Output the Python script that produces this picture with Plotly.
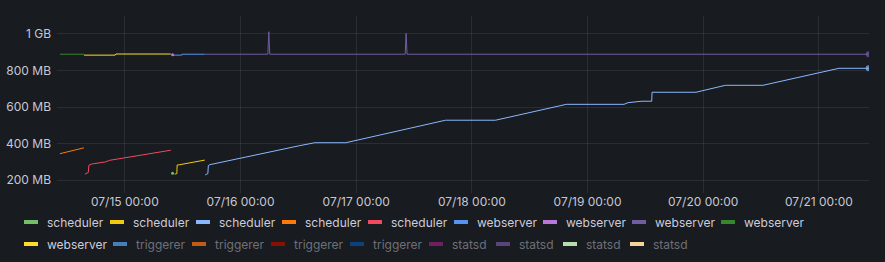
import plotly.graph_objects as go

# ---------------- data (MB) ----------------
sched1_t = ["2023-07-15 09:54"]
sched1_v = [238]

sched2_t = ["2023-07-15 10:22", "2023-07-15 10:47", "2023-07-15 10:51", "2023-07-15 11:25", "2023-07-15 16:35"]
sched2_v = [233, 236, 283, 285, 310]

sched3_t = ["2023-07-15 16:41", "2023-07-15 17:13", "2023-07-15 17:19", "2023-07-15 17:38",
            "2023-07-16 12:18", "2023-07-16 15:25", "2023-07-16 21:50", "2023-07-17 18:31",
            "2023-07-18 04:54", "2023-07-18 19:37", "2023-07-19 07:34", "2023-07-19 08:24",
            "2023-07-19 11:18", "2023-07-19 13:19", "2023-07-19 13:23", "2023-07-19 22:30",
            "2023-07-20 04:36", "2023-07-20 12:24", "2023-07-21 04:10", "2023-07-21 10:20"]
sched3_v = [229, 236, 280, 285, 389, 405, 405, 528, 528, 615, 615, 624, 632, 632, 681, 681,
            719, 719, 812, 812]

sched4_t = ["2023-07-14 10:31", "2023-07-14 15:30"]
sched4_v = [345, 377]

sched5_t = ["2023-07-14 15:42", "2023-07-14 16:24", "2023-07-14 16:32", "2023-07-14 17:13",
            "2023-07-14 19:58", "2023-07-14 20:53", "2023-07-15 09:32"]
sched5_v = [233, 242, 282, 289, 300, 309, 364]

web6_t = ["2023-07-15 10:00", "2023-07-15 11:49", "2023-07-15 11:50", "2023-07-15 16:35"]
web6_v = [884, 884, 889, 889]

web7_t = ["2023-07-15 09:54"]
web7_v = [886]

web8_t = ["2023-07-15 16:35", "2023-07-16 05:40", "2023-07-16 05:52", "2023-07-16 06:04",
          "2023-07-17 10:10", "2023-07-17 10:21", "2023-07-17 10:33", "2023-07-21 10:20"]
web8_v = [889, 889, 1012, 889, 889, 1003, 889, 889]

web9_t = ["2023-07-14 10:31", "2023-07-14 15:30"]
web9_v = [889, 889]

web10_t = ["2023-07-14 15:30", "2023-07-14 22:00", "2023-07-14 22:08", "2023-07-15 09:32"]
web10_v = [884, 884, 890, 890]

y_tickvals = [200, 400, 600, 800, 1000]
y_ticktext = ["200 MB", "400 MB", "600 MB", "800 MB", "1 GB"]
x_tickvals = ["2023-07-15 00:00", "2023-07-16 00:00", "2023-07-17 00:00", "2023-07-18 00:00",
              "2023-07-19 00:00", "2023-07-20 00:00", "2023-07-21 00:00"]
x_ticktext = ["07/15 00:00", "07/16 00:00", "07/17 00:00", "07/18 00:00",
              "07/19 00:00", "07/20 00:00", "07/21 00:00"]

legend_names = ["scheduler"] * 5 + ["webserver"] * 5 + ["triggerer"] * 4 + ["statsd"] * 4
legend_colors = ["#73BF69", "#F2CC0C", "#8AB8FF", "#FF780A", "#F2495C",
                 "#5794F2", "#B877D9", "#705DA0", "#37872D", "#FADE2A",
                 "#447EBC", "#C15C17", "#890F02", "#0A437C",
                 "#6D1F62", "#584477", "#B7DBAB", "#F4D598"]
legend_shown = [True] * 10 + [False] * 8

series = [
    (sched1_t, sched1_v, 0), (sched2_t, sched2_v, 1), (sched3_t, sched3_v, 2),
    (sched4_t, sched4_v, 3), (sched5_t, sched5_v, 4), (web6_t, web6_v, 5),
    (web7_t, web7_v, 6), (web8_t, web8_v, 7), (web9_t, web9_v, 8), (web10_t, web10_v, 9),
]
end_dots = {2, 7}

# ---------------- figure ----------------
BG = "#181b1f"
W, H = 885, 262
ML, MR, MT, MB = 57, 16, 16, 69

fig = go.Figure()
for t, v, idx in series:
    color = legend_colors[idx]
    if len(t) == 1:
        fig.add_trace(go.Scatter(x=t, y=v, mode="markers", showlegend=False,
                                 marker=dict(color=color, size=3), hoverinfo="skip"))
    else:
        sizes = [0] * (len(t) - 1) + [6 if idx in end_dots else 0]
        fig.add_trace(go.Scatter(x=t, y=v, mode="lines+markers", showlegend=False,
                                 line=dict(color=color, width=1),
                                 marker=dict(color=color, size=sizes, line=dict(width=0)),
                                 hoverinfo="skip"))

# ---------------- manual legend (Grafana style) ----------------
char_w = {"scheduler": 53, "webserver": 56, "triggerer": 46, "statsd": 34}
shapes = []
annotations = []
x = 24
row_y = [222, 244]
row = 0
for name, color, shown in zip(legend_names, legend_colors, legend_shown):
    w = char_w[name]
    if x + 22 + w > W - 15:
        row += 1
        x = 24
    yc = row_y[row] - (H - MB)  # pixels below the plot bottom
    shapes.append(dict(type="rect", xref="paper", yref="paper",
                       xsizemode="pixel", ysizemode="pixel",
                       xanchor=0, yanchor=0,
                       x0=x - ML, x1=x - ML + 14, y0=-yc - 2, y1=-yc + 2,
                       fillcolor=color, line=dict(width=0), layer="above"))
    annotations.append(dict(text=name, xref="paper", yref="paper", x=0, y=0,
                            xanchor="left", yanchor="middle",
                            xshift=x + 22 - ML - 1, yshift=-yc,
                            showarrow=False,
                            font=dict(family="Inter", size=12,
                                      color="#ccccdc" if shown else "#6e7079")))
    x += 22 + w + 11

grid = "rgba(204,204,220,0.10)"
fig.update_layout(
    width=W, height=H,
    margin=dict(l=ML, r=MR, t=MT, b=MB, autoexpand=False),
    paper_bgcolor=BG, plot_bgcolor=BG,
    font=dict(family="Inter", size=12, color="#c7c7d4"),
    showlegend=False,
    shapes=shapes, annotations=annotations,
    xaxis=dict(type="date", range=["2023-07-14 09:55", "2023-07-21 10:24"],
               tickmode="array", tickvals=x_tickvals, ticktext=x_ticktext,
               showgrid=True, gridcolor=grid, gridwidth=1, zeroline=False,
               showline=False, ticks="", ticklen=0, ticklabelstandoff=0, automargin=False),
    yaxis=dict(range=[130, 1098], tickmode="array", tickvals=y_tickvals, ticktext=y_ticktext,
               showgrid=True, gridcolor=grid, gridwidth=1, zeroline=False,
               showline=False, ticks="", ticklen=0, ticklabelstandoff=5, automargin=False),
)

fig.write_html("out.html", config={"displayModeBar": False})
